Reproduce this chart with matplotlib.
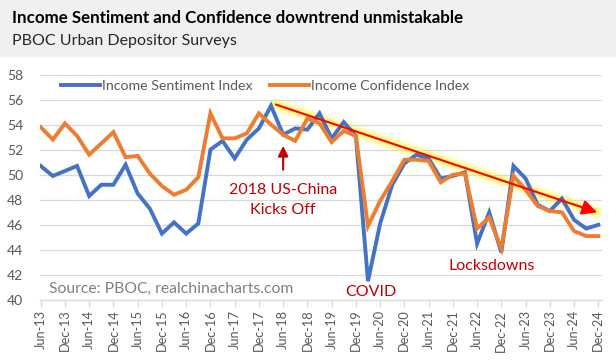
import matplotlib
matplotlib.use("Agg")
import matplotlib.pyplot as plt
import matplotlib.patches as mpatches
import numpy as np
import pandas as pd

# ---------------- data ----------------
quarters = [str(p) for p in pd.period_range("2013Q2", "2024Q4", freq="Q")]

sentiment = [50.7, 49.9, 50.3, 50.7, 48.3, 49.2, 49.2, 50.8, 48.5, 47.3,
             45.3, 46.2, 45.3, 46.1, 52.0, 52.7, 51.3, 52.8, 53.7, 55.5,
             53.2, 53.7, 53.6, 54.9, 52.9, 54.2, 53.1, 41.5, 46.1, 49.2,
             50.9, 51.6, 51.3, 49.7, 49.9, 50.2, 44.5, 47.0, 43.8, 50.7,
             49.7, 47.6, 47.1, 48.1, 46.4, 45.7, 46.0]

confidence = [53.8, 52.8, 54.1, 53.1, 51.6, 52.5, 53.4, 51.4, 51.5, 50.1,
              49.1, 48.4, 48.8, 49.8, 54.9, 52.9, 52.9, 53.3, 54.9, 54.0,
              53.2, 52.7, 54.5, 54.1, 52.6, 53.5, 53.1, 45.9, 47.9, 49.5,
              51.2, 51.2, 51.1, 49.4, 50.0, 50.1, 45.7, 46.6, 44.1, 49.9,
              48.8, 47.5, 47.1, 47.0, 45.5, 45.1, 45.1]

tick_labels = ["Jun-13", "Dec-13", "Jun-14", "Dec-14", "Jun-15", "Dec-15",
               "Jun-16", "Dec-16", "Jun-17", "Dec-17", "Jun-18", "Dec-18",
               "Jun-19", "Dec-19", "Jun-20", "Dec-20", "Jun-21", "Dec-21",
               "Jun-22", "Dec-22", "Jun-23", "Dec-23", "Jun-24", "Dec-24"]

y_ticks = [40, 42, 44, 46, 48, 50, 52, 54, 56, 58]

# annotation anchors (data coords: quarter index, index value)
trend_start = (19.4, 55.6)
trend_end = (45.9, 47.0)
tradewar_arrow = ((20.0, 50.4), (20.0, 52.3))

# ---------------- styling ----------------
FONT = "Lato"
BLUE = "#4472C4"
ORANGE = "#ED7D31"
GRID = "#D9D9D9"
TXT = "#595959"
DARKRED = "#C00000"

W, H = 616, 362
fig = plt.figure(figsize=(W / 100, H / 100), dpi=100)
fig.patch.set_facecolor("white")

# header band
fig.add_artist(mpatches.Rectangle((0, 1 - 57 / H), 1, 57 / H,
                                  transform=fig.transFigure,
                                  facecolor="#F0F0F0", edgecolor="none", zorder=0))
fig.text(12 / W, 1 - 18 / H, "Income Sentiment and Confidence downtrend unmistakable",
         fontsize=12.2, fontweight="bold", family=FONT, color="black", va="center")
fig.text(12 / W, 1 - 41 / H, "PBOC Urban Depositor Surveys",
         fontsize=11.5, family=FONT, color="#262626", va="center")

ax = fig.add_axes([40 / W, 62 / H, 562 / W, 225.5 / H])
ax.set_facecolor("none")

x = np.arange(len(quarters))
ax.plot(x, sentiment, color=BLUE, lw=2.8, label="Income Sentiment Index",
        solid_joinstyle="miter", zorder=3)
ax.plot(x, confidence, color=ORANGE, lw=2.8, label="Income Confidence Index",
        solid_joinstyle="miter", zorder=3)

ax.set_xlim(-0.058, 46.305)
ax.set_ylim(40, 58)
ax.set_yticks(y_ticks)
ax.set_yticklabels([str(v) for v in y_ticks], family=FONT, fontsize=10, color=TXT)
ax.set_xticks(x[::2])
ax.set_xticklabels(tick_labels, rotation=90, family=FONT, fontsize=9.2, color=TXT)
ax.tick_params(axis="y", length=0, pad=12)
ax.tick_params(axis="x", length=5, color=GRID, width=0.8, pad=2)
ax.grid(axis="y", color=GRID, lw=0.9)
for s in ["top", "right", "left"]:
    ax.spines[s].set_visible(False)
ax.spines["bottom"].set_color(GRID)
ax.spines["bottom"].set_linewidth(0.9)

# glowing trend line
xs = [trend_start[0], trend_end[0]]
ys = [trend_start[1], trend_end[1]]
for lw, a in [(10, 0.12), (7, 0.2), (4, 0.3)]:
    ax.plot(xs, ys, color="#FFF200", lw=lw, alpha=a, solid_capstyle="round", zorder=2)
ax.annotate("", xy=trend_end, xytext=trend_start,
            arrowprops=dict(arrowstyle="-|>,head_length=0.9,head_width=0.45",
                            color="#FF0000", lw=1.5, shrinkA=0, shrinkB=0),
            zorder=4)

# trade war arrow
ax.annotate("", xy=tradewar_arrow[1], xytext=tradewar_arrow[0],
            arrowprops=dict(arrowstyle="-|>,head_length=0.6,head_width=0.3",
                            color=DARKRED, lw=1.5, shrinkA=0, shrinkB=0),
            zorder=4)
ax.text(20.0, 48.8, "2018 US-China", color=DARKRED, family=FONT, fontsize=11.5,
        ha="center", va="center")
ax.text(20.0, 47.2, "Kicks Off", color=DARKRED, family=FONT, fontsize=11.5,
        ha="center", va="center")
ax.text(27.2, 40.65, "COVID", color=DARKRED, family=FONT, fontsize=11.5,
        ha="center", va="center")
ax.text(37.2, 42.7, "Locksdowns", color=DARKRED, family=FONT, fontsize=11.5,
        ha="center", va="center")
ax.text(0.7, 40.9, "Source: PBOC, realchinacharts.com", color="#808080",
        family=FONT, fontsize=11.3, ha="left", va="center")

leg = ax.legend(loc="upper left", bbox_to_anchor=(61 / W, 1 - 80 / H),
                bbox_transform=fig.transFigure, ncol=2, frameon=False,
                prop=dict(family=FONT, size=10.2), handlelength=2.75,
                handletextpad=0.15, columnspacing=1.2, borderpad=0,
                borderaxespad=0)
for t in leg.get_texts():
    t.set_color(TXT)

fig.savefig("out.png", dpi=100)
